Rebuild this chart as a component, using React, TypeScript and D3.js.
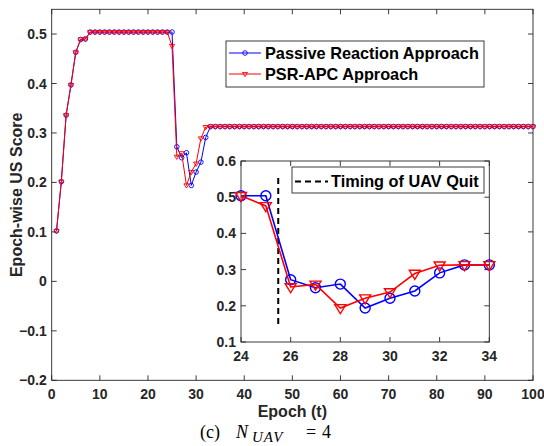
import React from "react";
import * as d3 from "d3";

const epochs: number[] = d3.range(1, 101);
const passiveHead: number[] = [0.102, 0.2015, 0.336, 0.397, 0.463, 0.489, 0.49];
const passiveMid: number[] = [0.272, 0.25, 0.26, 0.194, 0.221, 0.241, 0.291];
const psrMid: number[] = [0.476, 0.252, 0.259, 0.194, 0.221, 0.238, 0.289, 0.312];
const plateau = 0.504;
const tail = 0.313;

// Passive Reaction: epochs 1-7 head, 8-25 plateau, 26-32 mid, 33-100 tail
const passive: number[] = [
  ...passiveHead,
  ...Array(18).fill(plateau),
  ...passiveMid,
  ...Array(68).fill(tail),
];
// PSR-APC: epochs 1-7 head, 8-24 plateau, 25-32 mid, 33-100 tail
const psr: number[] = [
  ...passiveHead,
  ...Array(17).fill(plateau),
  ...psrMid,
  ...Array(68).fill(tail),
];

const xTicks = [0, 10, 20, 30, 40, 50, 60, 70, 80, 90, 100];
const yTicks = [-0.2, -0.1, 0, 0.1, 0.2, 0.3, 0.4, 0.5];
const insetXTicks = [24, 26, 28, 30, 32, 34];
const insetYTicks = [0.1, 0.2, 0.3, 0.4, 0.5, 0.6];
const quitEpoch = 25.5;
const quitRange = [0.15, 0.553];
const seriesNames = ["Passive Reaction Approach", "PSR-APC Approach"];

const BLUE = "#0000ff";
const RED = "#ff0000";
const AX = "#262626";
const FONT = "'Liberation Sans', Arial, Helvetica, sans-serif";
const SERIF = "'Liberation Serif', 'Times New Roman', serif";

function tri(x: number, y: number, s: number) {
  return `M${x - s},${y - s * 0.6}L${x + s},${y - s * 0.6}L${x},${y + s * 1.05}Z`;
}

export default function App() {
  const W = 544, H = 446;
  const x = d3.scaleLinear().domain([0, 100]).range([51.7, 533]);
  const y = d3.scaleLinear().domain([-0.2, 0.55]).range([380.3, 9.3]);
  const ix = d3.scaleLinear().domain([24, 34]).range([241, 489.3]);
  const iy = d3.scaleLinear().domain([0.1, 0.6]).range([342, 161]);

  const line = d3.line<number>().x((_, i) => x(epochs[i])).y((d) => y(d));
  const insetIdx = epochs.map((e, i) => i).filter((i) => epochs[i] >= 24 && epochs[i] <= 34);

  const insetPath = (arr: number[]) =>
    d3.line<number>().x((i) => ix(epochs[i])).y((i) => iy(arr[i]))(insetIdx) as string;

  const tl = 5;
  return (
    <svg width={W} height={H} style={{ position: "absolute", left: 0, top: 0, background: "#fff" }} fontFamily={FONT}>
      <rect x={0} y={0} width={W} height={H} fill="#fff" />
      {/* main axes box */}
      <rect x={x(0)} y={y(0.55)} width={x(100) - x(0)} height={y(-0.2) - y(0.55)} fill="none" stroke={AX} strokeWidth={0.9} />
      {xTicks.map((t) => (
        <g key={"xt" + t}>
          <line x1={x(t)} x2={x(t)} y1={y(-0.2)} y2={y(-0.2) - tl} stroke={AX} strokeWidth={0.9} />
          <line x1={x(t)} x2={x(t)} y1={y(0.55)} y2={y(0.55) + tl} stroke={AX} strokeWidth={0.9} />
          <text x={x(t)} y={y(-0.2) + 19} textAnchor="middle" fontSize={14} fontWeight="bold" fill={AX}>{t}</text>
        </g>
      ))}
      {yTicks.map((t) => (
        <g key={"yt" + t}>
          <line x1={x(0)} x2={x(0) + tl} y1={y(t)} y2={y(t)} stroke={AX} strokeWidth={0.9} />
          <line x1={x(100)} x2={x(100) - tl} y1={y(t)} y2={y(t)} stroke={AX} strokeWidth={0.9} />
          <text x={x(0) - 5} y={y(t) + 5} textAnchor="end" fontSize={14} fontWeight="bold" fill={AX}>{d3.format("")(Math.round(t * 10) / 10)}</text>
        </g>
      ))}
      <text x={(x(0) + x(100)) / 2} y={417} textAnchor="middle" fontSize={16} fontWeight="bold" fill={AX}>Epoch (t)</text>
      <text transform={`translate(22,${(y(-0.2) + y(0.55)) / 2}) rotate(-90)`} textAnchor="middle" fontSize={16} fontWeight="bold" fill={AX}>Epoch-wise US Score</text>
      <text y={438} fontSize={18} fontFamily={SERIF} fill="#000">
        <tspan x={200}>(c)</tspan>
        <tspan x={236} fontStyle="italic">N</tspan>
        <tspan x={252} dy={4} fontStyle="italic" fontSize={15} letterSpacing={1}>UAV</tspan>
        <tspan x={306} dy={-4}>=</tspan>
        <tspan x={322}>4</tspan>
      </text>

      {/* main series */}
      <path d={line(passive) as string} fill="none" stroke={BLUE} strokeWidth={1} />
      {passive.map((v, i) => (
        <circle key={"pc" + i} cx={x(epochs[i])} cy={y(v)} r={2.3} fill="none" stroke={BLUE} strokeWidth={0.9} />
      ))}
      <path d={line(psr) as string} fill="none" stroke={RED} strokeWidth={1} />
      {psr.map((v, i) => (
        <path key={"rt" + i} d={tri(x(epochs[i]), y(v), 2.6)} fill="none" stroke={RED} strokeWidth={0.9} />
      ))}

      {/* main legend */}
      <rect x={226} y={41} width={258} height={46} fill="#fff" stroke={AX} strokeWidth={0.9} />
      <line x1={229} x2={261} y1={53} y2={53} stroke={BLUE} strokeWidth={1} />
      <circle cx={245} cy={53} r={2.3} fill="none" stroke={BLUE} strokeWidth={0.9} />
      <text x={265} y={59} fontSize={16.3} fontWeight="bold" fill="#000">{seriesNames[0]}</text>
      <line x1={229} x2={261} y1={74} y2={74} stroke={RED} strokeWidth={1} />
      <path d={tri(245, 74, 2.6)} fill="none" stroke={RED} strokeWidth={0.9} />
      <text x={265} y={80} fontSize={16.3} fontWeight="bold" fill="#000">{seriesNames[1]}</text>

      {/* inset */}
      <rect x={ix(24)} y={iy(0.6)} width={ix(34) - ix(24)} height={iy(0.1) - iy(0.6)} fill="#fff" stroke={AX} strokeWidth={0.9} />
      {insetXTicks.map((t) => (
        <g key={"ixt" + t}>
          <line x1={ix(t)} x2={ix(t)} y1={iy(0.1)} y2={iy(0.1) - tl} stroke={AX} strokeWidth={0.9} />
          <line x1={ix(t)} x2={ix(t)} y1={iy(0.6)} y2={iy(0.6) + tl} stroke={AX} strokeWidth={0.9} />
          <text x={ix(t)} y={iy(0.1) + 19} textAnchor="middle" fontSize={14} fontWeight="bold" fill={AX}>{t}</text>
        </g>
      ))}
      {insetYTicks.map((t) => (
        <g key={"iyt" + t}>
          <line x1={ix(24)} x2={ix(24) + tl} y1={iy(t)} y2={iy(t)} stroke={AX} strokeWidth={0.9} />
          <line x1={ix(34)} x2={ix(34) - tl} y1={iy(t)} y2={iy(t)} stroke={AX} strokeWidth={0.9} />
          <text x={ix(24) - 5} y={iy(t) + 5} textAnchor="end" fontSize={14} fontWeight="bold" fill={AX}>{(Math.round(t * 10) / 10).toString()}</text>
        </g>
      ))}
      <line x1={ix(quitEpoch)} x2={ix(quitEpoch)} y1={iy(quitRange[0])} y2={iy(quitRange[1])} stroke="#000" strokeWidth={2} strokeDasharray="6,4" />
      <path d={insetPath(passive)} fill="none" stroke={BLUE} strokeWidth={1.6} />
      {insetIdx.map((i) => (
        <circle key={"ipc" + i} cx={ix(epochs[i])} cy={iy(passive[i])} r={5} fill="none" stroke={BLUE} strokeWidth={1.4} />
      ))}
      <path d={insetPath(psr)} fill="none" stroke={RED} strokeWidth={1.6} />
      {insetIdx.map((i) => (
        <path key={"irt" + i} d={tri(ix(epochs[i]), iy(psr[i]), 5.5)} fill="none" stroke={RED} strokeWidth={1.4} />
      ))}
      <rect x={292} y={167} width={192} height={26} fill="#fff" stroke={AX} strokeWidth={0.9} />
      <line x1={295} x2={328} y1={181.5} y2={181.5} stroke="#000" strokeWidth={2} strokeDasharray="6,4" />
      <text x={331} y={187} fontSize={16.3} fontWeight="bold" fill="#000">Timing of UAV Quit</text>
    </svg>
  );
}
